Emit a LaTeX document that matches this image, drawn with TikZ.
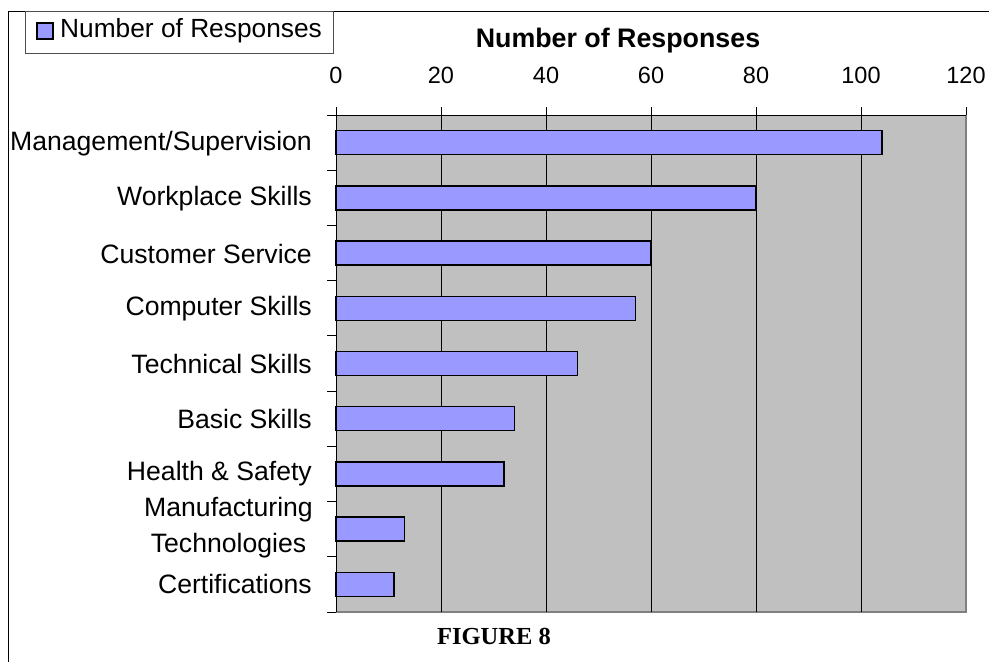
\documentclass[tikz,border=0pt]{standalone}
\usepackage{fontspec}
\setmainfont{Liberation Sans}
\newfontfamily\figfont{Liberation Serif}
\definecolor{plotgray}{HTML}{C0C0C0}
\definecolor{barblue}{HTML}{9999FF}
\definecolor{edgegray}{HTML}{808080}
\begin{document}
\begin{tikzpicture}[x=1pt,y=-1pt,
 catlabel/.style={anchor=east,font=\fontsize{26.6}{36}\selectfont,inner sep=0pt,align=center},
 ticklabel/.style={font=\fontsize{23.5}{28}\selectfont,inner sep=0pt},
 barbox/.style={draw=black,line width=1.5pt,fill=barblue},
 gridline/.style={draw=black,line width=1pt},
 tickmark/.style={draw=black,line width=1pt}]
\useasboundingbox (0,0) rectangle (989,662);
\fill[white] (0,0) rectangle (989,662);
% outer frame
\draw[line width=1pt] (989,11) -- (8,11) -- (8,662);
% plot area
\fill[plotgray] (336,115) rectangle (966,612);
\draw[line width=1.5pt, draw=edgegray] (336,612) -- (966,612) -- (966,115);
\foreach \v in {20,40,60,80,100}
  \draw[gridline] ({336+5.25*\v},115) -- ({336+5.25*\v},612);
% axes
\draw[line width=1pt] (336,612) -- (336,115) -- (966,115);
% x ticks and labels
\foreach \v in {0,20,...,120} {
  \draw[tickmark] ({336+5.25*\v},107) -- ({336+5.25*\v},115);
  \node[ticklabel] (t\v) at ({336+5.25*\v},75) {\v};
}
% y ticks
\foreach \i in {0,...,9}
  \draw[tickmark] (327,{115+55.222*\i}) -- (336,{115+55.222*\i});
% bars
\foreach \v [count=\i] in {104,80,60,57,46,34,32,13,11}
  \draw[barbox] (336,{115+55.222*(\i-1)+15.6}) rectangle ({336+5.25*\v},{115+55.222*(\i-1)+39.6});
% category labels
\node[catlabel] (c1) at (312,144) {Management/Supervision};
\node[catlabel] (c2) at (312,199) {Workplace Skills};
\node[catlabel] (c3) at (312,254) {Customer Service};
\node[catlabel] (c4) at (312,309) {Computer Skills};
\node[catlabel] (c5) at (312,364) {Technical Skills};
\node[catlabel] (c6) at (312,419) {Basic Skills};
\node[catlabel] (c7) at (312,474) {Health \& Safety};
\node[catlabel] (c8) at (313,528) {Manufacturing\\Technologies};
\node[catlabel] (c9) at (312,584) {Certifications};
% legend
\draw[draw=black!70,line width=1pt] (25,11) rectangle (333,53);
\draw[barbox] (37,23) rectangle (53,39);
\node[anchor=base west,inner sep=0pt,font=\fontsize{26.3}{30}\selectfont] (leg) at (60,37) {Number of Responses};
% title
\node[anchor=base,inner sep=0pt,font=\bfseries\fontsize{26.8}{30}\selectfont] (title) at (618,47) {Number of Responses};
% figure caption
\node[anchor=base,inner sep=0pt,font=\figfont\bfseries\fontsize{24.5}{28}\selectfont] (fig) at (494,644) {FIGURE 8};
\end{tikzpicture}
\end{document}
